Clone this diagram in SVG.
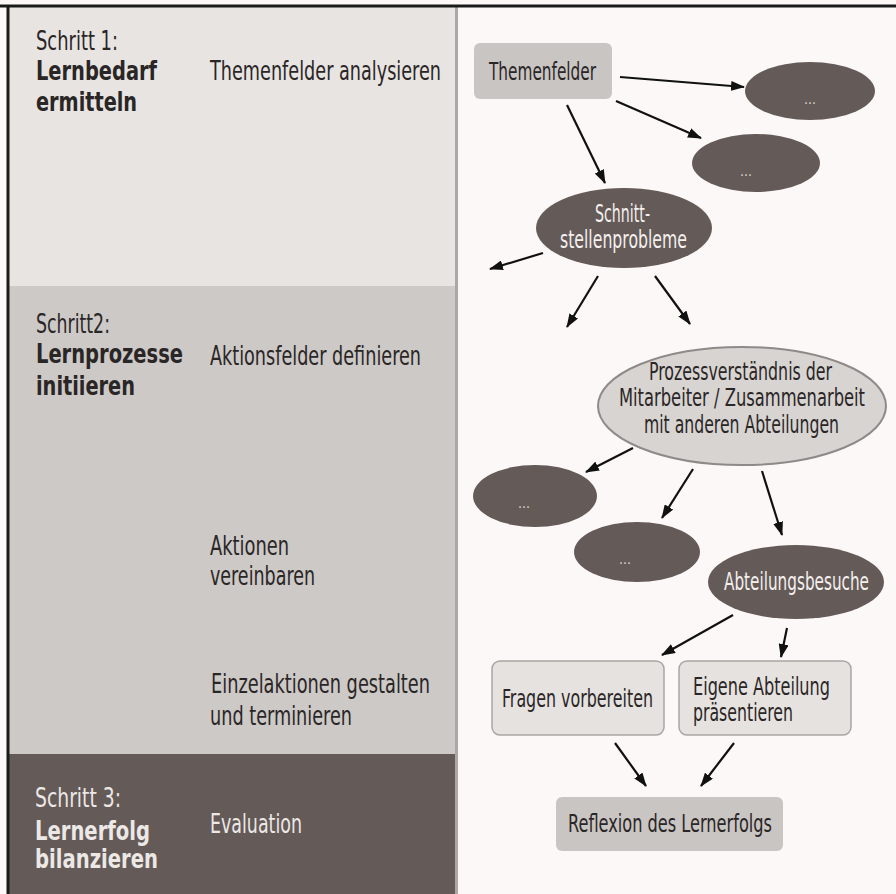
<svg xmlns="http://www.w3.org/2000/svg" width="896" height="894" viewBox="0 0 896 894">
<defs>
<style>
text{font-family:"Liberation Sans Narrow","DejaVu Sans Condensed","Liberation Sans",sans-serif;}
.lbl{font-size:27px;fill:#2a2626;}
.b{font-weight:bold;}
.w{fill:#ece8e6;}
.r{font-size:24px;fill:#2a2626;}
.rw{font-size:24px;fill:#f4f0ee;}
.dots{font-size:14px;fill:#d8d4d2;text-anchor:middle;}
.dark{fill:#645a58;}
.conn line{stroke:#111;stroke-width:2.2;marker-end:url(#ah);}
</style>
<marker id="ah" viewBox="0 0 14 10" refX="13" refY="5" markerWidth="14" markerHeight="10" markerUnits="userSpaceOnUse" orient="auto">
<path d="M0,0 L14,5 L0,10 z" fill="#111"/>
</marker>
</defs>

<!-- backgrounds -->
<rect x="0" y="0" width="896" height="894" fill="#fcf8f8"/>
<rect x="8" y="6" width="448" height="280" fill="#e8e4e2"/>
<rect x="8" y="286" width="448" height="468" fill="#cdc9c6"/>
<rect x="8" y="754" width="448" height="140" fill="#645a58"/>
<rect x="455" y="6" width="3" height="888" fill="#aca6a4"/>
<line x1="0" y1="6" x2="896" y2="6" stroke="#1a1a1a" stroke-width="3"/>
<line x1="8" y1="5" x2="8" y2="894" stroke="#1a1a1a" stroke-width="3"/>

<!-- left column -->
<g id="step1">
<text class="lbl" x="36" y="50" textLength="82" lengthAdjust="spacingAndGlyphs">Schritt 1:</text>
<text class="lbl b" x="36" y="80" textLength="121" lengthAdjust="spacingAndGlyphs">Lernbedarf</text>
<text class="lbl b" x="36" y="111" textLength="101" lengthAdjust="spacingAndGlyphs">ermitteln</text>
<text class="lbl" x="210" y="80" textLength="231" lengthAdjust="spacingAndGlyphs">Themenfelder analysieren</text>
</g>
<g id="step2">
<text class="lbl" x="36" y="333" textLength="74" lengthAdjust="spacingAndGlyphs">Schritt2:</text>
<text class="lbl b" x="36" y="363" textLength="147" lengthAdjust="spacingAndGlyphs">Lernprozesse</text>
<text class="lbl b" x="36" y="395" textLength="99" lengthAdjust="spacingAndGlyphs">initiieren</text>
<text class="lbl" x="210" y="365" textLength="211" lengthAdjust="spacingAndGlyphs">Aktionsfelder definieren</text>
<text class="lbl" x="210" y="555" textLength="79" lengthAdjust="spacingAndGlyphs">Aktionen</text>
<text class="lbl" x="210" y="585" textLength="105" lengthAdjust="spacingAndGlyphs">vereinbaren</text>
<text class="lbl" x="211" y="693" textLength="219" lengthAdjust="spacingAndGlyphs">Einzelaktionen gestalten</text>
<text class="lbl" x="210" y="725" textLength="142" lengthAdjust="spacingAndGlyphs">und terminieren</text>
</g>
<g id="step3">
<text class="lbl w" x="35" y="807" textLength="86" lengthAdjust="spacingAndGlyphs">Schritt 3:</text>
<text class="lbl b w" x="35" y="840" textLength="115" lengthAdjust="spacingAndGlyphs">Lernerfolg</text>
<text class="lbl b w" x="35" y="868" textLength="123" lengthAdjust="spacingAndGlyphs">bilanzieren</text>
<text class="lbl w" x="210" y="833" textLength="92" lengthAdjust="spacingAndGlyphs">Evaluation</text>
</g>

<!-- connectors -->
<g id="connectors" class="conn">
<line x1="620" y1="77" x2="744" y2="87"/>
<line x1="616" y1="101" x2="701" y2="138"/>
<line x1="567" y1="105" x2="605" y2="183"/>
<line x1="543" y1="253" x2="490" y2="269"/>
<line x1="598" y1="276" x2="567" y2="327"/>
<line x1="655" y1="276" x2="690" y2="324"/>
<line x1="633" y1="448" x2="586" y2="472"/>
<line x1="693" y1="469" x2="662" y2="518"/>
<line x1="762" y1="471" x2="782" y2="535"/>
<line x1="733" y1="615" x2="662" y2="655"/>
<line x1="787" y1="628" x2="781" y2="657"/>
<line x1="615" y1="743" x2="646" y2="786"/>
<line x1="734" y1="743" x2="701" y2="786"/>
</g>

<!-- nodes -->
<g id="themenfelder">
<rect x="474" y="43" width="138" height="56" rx="6" fill="#c9c5c3"/>
<text class="r" x="489" y="80" textLength="107" lengthAdjust="spacingAndGlyphs">Themenfelder</text>
</g>
<g id="dots1">
<ellipse class="dark" cx="810" cy="91" rx="65" ry="29"/>
<text class="dots" x="810" y="104">...</text>
</g>
<g id="dots2">
<ellipse class="dark" cx="756" cy="163" rx="64" ry="29"/>
<text class="dots" x="746" y="176">...</text>
</g>
<g id="schnittstellen">
<ellipse class="dark" cx="624" cy="228" rx="88" ry="40"/>
<text class="rw" x="595" y="222" textLength="55" lengthAdjust="spacingAndGlyphs">Schnitt-</text>
<text class="rw" x="560" y="248" textLength="127" lengthAdjust="spacingAndGlyphs">stellenprobleme</text>
</g>
<g id="prozess">
<ellipse cx="742" cy="406" rx="144" ry="59" fill="#d8d4d2" stroke="#8f8987" stroke-width="2"/>
<text class="r" x="649" y="380" textLength="183" lengthAdjust="spacingAndGlyphs">Prozessverständnis der</text>
<text class="r" x="619" y="406" textLength="246" lengthAdjust="spacingAndGlyphs">Mitarbeiter / Zusammenarbeit</text>
<text class="r" x="644" y="433" textLength="195" lengthAdjust="spacingAndGlyphs">mit anderen Abteilungen</text>
</g>
<g id="dots3">
<ellipse class="dark" cx="535" cy="496" rx="62" ry="31"/>
<text class="dots" x="524" y="508">...</text>
</g>
<g id="dots4">
<ellipse class="dark" cx="637" cy="552" rx="63" ry="30"/>
<text class="dots" x="625" y="564">...</text>
</g>
<g id="abteilungsbesuche">
<ellipse class="dark" cx="796" cy="582" rx="88" ry="37"/>
<text class="rw" x="724" y="590" textLength="145" lengthAdjust="spacingAndGlyphs">Abteilungsbesuche</text>
</g>
<g id="fragen">
<rect x="492" y="661" width="172" height="74" rx="8" fill="#e6e2e0" stroke="#aaa4a2" stroke-width="1.5"/>
<text class="r" x="502" y="707" textLength="151" lengthAdjust="spacingAndGlyphs">Fragen vorbereiten</text>
</g>
<g id="eigene">
<rect x="679" y="661" width="172" height="74" rx="8" fill="#e6e2e0" stroke="#aaa4a2" stroke-width="1.5"/>
<text class="r" x="693" y="695" textLength="137" lengthAdjust="spacingAndGlyphs">Eigene Abteilung</text>
<text class="r" x="693" y="721" textLength="100" lengthAdjust="spacingAndGlyphs">präsentieren</text>
</g>
<g id="reflexion">
<rect x="556" y="797" width="227" height="54" rx="6" fill="#c9c5c3"/>
<text class="r" x="568" y="832" textLength="204" lengthAdjust="spacingAndGlyphs">Reflexion des Lernerfolgs</text>
</g>
</svg>
